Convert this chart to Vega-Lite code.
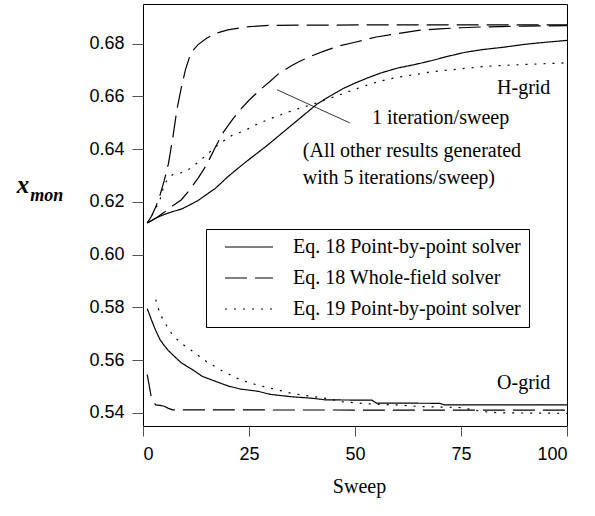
{
  "$schema": "https://vega.github.io/schema/vega-lite/v6.json",
  "width": 424,
  "height": 422,
  "autosize": {"type": "none"},
  "padding": {"left": 143, "top": 4, "right": 28, "bottom": 90},
  "background": "white",
  "config": {
    "view": {"stroke": "black", "strokeWidth": 1},
    "axis": {"grid": false, "domain": false, "tickColor": "#555", "labelFont": "Liberation Sans", "labelFontSize": 18, "labelColor": "black"}
  },
  "datasets": {
    "curves": [
      {"series": "H-PbP18", "method": "Eq. 18 Point-by-point solver", "sweep": 1, "xmon": 0.612},
      {"series": "H-PbP18", "method": "Eq. 18 Point-by-point solver", "sweep": 3, "xmon": 0.6138},
      {"series": "H-PbP18", "method": "Eq. 18 Point-by-point solver", "sweep": 5, "xmon": 0.6152},
      {"series": "H-PbP18", "method": "Eq. 18 Point-by-point solver", "sweep": 7, "xmon": 0.6163},
      {"series": "H-PbP18", "method": "Eq. 18 Point-by-point solver", "sweep": 9, "xmon": 0.6172},
      {"series": "H-PbP18", "method": "Eq. 18 Point-by-point solver", "sweep": 11, "xmon": 0.6188},
      {"series": "H-PbP18", "method": "Eq. 18 Point-by-point solver", "sweep": 13, "xmon": 0.6205},
      {"series": "H-PbP18", "method": "Eq. 18 Point-by-point solver", "sweep": 15, "xmon": 0.6228},
      {"series": "H-PbP18", "method": "Eq. 18 Point-by-point solver", "sweep": 17, "xmon": 0.625},
      {"series": "H-PbP18", "method": "Eq. 18 Point-by-point solver", "sweep": 20, "xmon": 0.6295},
      {"series": "H-PbP18", "method": "Eq. 18 Point-by-point solver", "sweep": 23, "xmon": 0.6335},
      {"series": "H-PbP18", "method": "Eq. 18 Point-by-point solver", "sweep": 26, "xmon": 0.6373},
      {"series": "H-PbP18", "method": "Eq. 18 Point-by-point solver", "sweep": 29, "xmon": 0.641},
      {"series": "H-PbP18", "method": "Eq. 18 Point-by-point solver", "sweep": 32, "xmon": 0.645},
      {"series": "H-PbP18", "method": "Eq. 18 Point-by-point solver", "sweep": 35, "xmon": 0.649},
      {"series": "H-PbP18", "method": "Eq. 18 Point-by-point solver", "sweep": 38, "xmon": 0.653},
      {"series": "H-PbP18", "method": "Eq. 18 Point-by-point solver", "sweep": 41, "xmon": 0.657},
      {"series": "H-PbP18", "method": "Eq. 18 Point-by-point solver", "sweep": 44, "xmon": 0.66},
      {"series": "H-PbP18", "method": "Eq. 18 Point-by-point solver", "sweep": 47, "xmon": 0.6628},
      {"series": "H-PbP18", "method": "Eq. 18 Point-by-point solver", "sweep": 50, "xmon": 0.665},
      {"series": "H-PbP18", "method": "Eq. 18 Point-by-point solver", "sweep": 53, "xmon": 0.667},
      {"series": "H-PbP18", "method": "Eq. 18 Point-by-point solver", "sweep": 56, "xmon": 0.6688},
      {"series": "H-PbP18", "method": "Eq. 18 Point-by-point solver", "sweep": 60, "xmon": 0.6707},
      {"series": "H-PbP18", "method": "Eq. 18 Point-by-point solver", "sweep": 64, "xmon": 0.672},
      {"series": "H-PbP18", "method": "Eq. 18 Point-by-point solver", "sweep": 68, "xmon": 0.6735},
      {"series": "H-PbP18", "method": "Eq. 18 Point-by-point solver", "sweep": 72, "xmon": 0.6752},
      {"series": "H-PbP18", "method": "Eq. 18 Point-by-point solver", "sweep": 76, "xmon": 0.6767},
      {"series": "H-PbP18", "method": "Eq. 18 Point-by-point solver", "sweep": 80, "xmon": 0.6777},
      {"series": "H-PbP18", "method": "Eq. 18 Point-by-point solver", "sweep": 85, "xmon": 0.6786},
      {"series": "H-PbP18", "method": "Eq. 18 Point-by-point solver", "sweep": 90, "xmon": 0.6797},
      {"series": "H-PbP18", "method": "Eq. 18 Point-by-point solver", "sweep": 95, "xmon": 0.6805},
      {"series": "H-PbP18", "method": "Eq. 18 Point-by-point solver", "sweep": 100, "xmon": 0.6812},

      {"series": "H-WF5", "method": "Eq. 18 Whole-field solver", "sweep": 1, "xmon": 0.612},
      {"series": "H-WF5", "method": "Eq. 18 Whole-field solver", "sweep": 2, "xmon": 0.6145},
      {"series": "H-WF5", "method": "Eq. 18 Whole-field solver", "sweep": 3, "xmon": 0.618},
      {"series": "H-WF5", "method": "Eq. 18 Whole-field solver", "sweep": 4, "xmon": 0.6225},
      {"series": "H-WF5", "method": "Eq. 18 Whole-field solver", "sweep": 5, "xmon": 0.628},
      {"series": "H-WF5", "method": "Eq. 18 Whole-field solver", "sweep": 6, "xmon": 0.6345},
      {"series": "H-WF5", "method": "Eq. 18 Whole-field solver", "sweep": 7, "xmon": 0.644},
      {"series": "H-WF5", "method": "Eq. 18 Whole-field solver", "sweep": 8, "xmon": 0.655},
      {"series": "H-WF5", "method": "Eq. 18 Whole-field solver", "sweep": 9, "xmon": 0.663},
      {"series": "H-WF5", "method": "Eq. 18 Whole-field solver", "sweep": 10, "xmon": 0.67},
      {"series": "H-WF5", "method": "Eq. 18 Whole-field solver", "sweep": 11, "xmon": 0.675},
      {"series": "H-WF5", "method": "Eq. 18 Whole-field solver", "sweep": 12, "xmon": 0.6778},
      {"series": "H-WF5", "method": "Eq. 18 Whole-field solver", "sweep": 13, "xmon": 0.6796},
      {"series": "H-WF5", "method": "Eq. 18 Whole-field solver", "sweep": 15, "xmon": 0.682},
      {"series": "H-WF5", "method": "Eq. 18 Whole-field solver", "sweep": 17, "xmon": 0.6838},
      {"series": "H-WF5", "method": "Eq. 18 Whole-field solver", "sweep": 20, "xmon": 0.6852},
      {"series": "H-WF5", "method": "Eq. 18 Whole-field solver", "sweep": 25, "xmon": 0.6864},
      {"series": "H-WF5", "method": "Eq. 18 Whole-field solver", "sweep": 30, "xmon": 0.6869},
      {"series": "H-WF5", "method": "Eq. 18 Whole-field solver", "sweep": 40, "xmon": 0.687},
      {"series": "H-WF5", "method": "Eq. 18 Whole-field solver", "sweep": 60, "xmon": 0.6871},
      {"series": "H-WF5", "method": "Eq. 18 Whole-field solver", "sweep": 100, "xmon": 0.6871},

      {"series": "H-WF1", "method": "Eq. 18 Whole-field solver", "sweep": 1, "xmon": 0.612},
      {"series": "H-WF1", "method": "Eq. 18 Whole-field solver", "sweep": 3, "xmon": 0.6138},
      {"series": "H-WF1", "method": "Eq. 18 Whole-field solver", "sweep": 5, "xmon": 0.616},
      {"series": "H-WF1", "method": "Eq. 18 Whole-field solver", "sweep": 7, "xmon": 0.6185},
      {"series": "H-WF1", "method": "Eq. 18 Whole-field solver", "sweep": 9, "xmon": 0.6207},
      {"series": "H-WF1", "method": "Eq. 18 Whole-field solver", "sweep": 11, "xmon": 0.6245},
      {"series": "H-WF1", "method": "Eq. 18 Whole-field solver", "sweep": 13, "xmon": 0.629},
      {"series": "H-WF1", "method": "Eq. 18 Whole-field solver", "sweep": 15, "xmon": 0.634},
      {"series": "H-WF1", "method": "Eq. 18 Whole-field solver", "sweep": 17, "xmon": 0.6405},
      {"series": "H-WF1", "method": "Eq. 18 Whole-field solver", "sweep": 19, "xmon": 0.6465},
      {"series": "H-WF1", "method": "Eq. 18 Whole-field solver", "sweep": 21, "xmon": 0.651},
      {"series": "H-WF1", "method": "Eq. 18 Whole-field solver", "sweep": 23, "xmon": 0.655},
      {"series": "H-WF1", "method": "Eq. 18 Whole-field solver", "sweep": 25, "xmon": 0.6585},
      {"series": "H-WF1", "method": "Eq. 18 Whole-field solver", "sweep": 28, "xmon": 0.663},
      {"series": "H-WF1", "method": "Eq. 18 Whole-field solver", "sweep": 30, "xmon": 0.6657},
      {"series": "H-WF1", "method": "Eq. 18 Whole-field solver", "sweep": 32, "xmon": 0.6686},
      {"series": "H-WF1", "method": "Eq. 18 Whole-field solver", "sweep": 35, "xmon": 0.6716},
      {"series": "H-WF1", "method": "Eq. 18 Whole-field solver", "sweep": 37, "xmon": 0.6733},
      {"series": "H-WF1", "method": "Eq. 18 Whole-field solver", "sweep": 40, "xmon": 0.6755},
      {"series": "H-WF1", "method": "Eq. 18 Whole-field solver", "sweep": 43, "xmon": 0.6773},
      {"series": "H-WF1", "method": "Eq. 18 Whole-field solver", "sweep": 46, "xmon": 0.679},
      {"series": "H-WF1", "method": "Eq. 18 Whole-field solver", "sweep": 50, "xmon": 0.6805},
      {"series": "H-WF1", "method": "Eq. 18 Whole-field solver", "sweep": 55, "xmon": 0.6825},
      {"series": "H-WF1", "method": "Eq. 18 Whole-field solver", "sweep": 60, "xmon": 0.6838},
      {"series": "H-WF1", "method": "Eq. 18 Whole-field solver", "sweep": 65, "xmon": 0.685},
      {"series": "H-WF1", "method": "Eq. 18 Whole-field solver", "sweep": 70, "xmon": 0.6856},
      {"series": "H-WF1", "method": "Eq. 18 Whole-field solver", "sweep": 75, "xmon": 0.686},
      {"series": "H-WF1", "method": "Eq. 18 Whole-field solver", "sweep": 80, "xmon": 0.6863},
      {"series": "H-WF1", "method": "Eq. 18 Whole-field solver", "sweep": 90, "xmon": 0.6866},
      {"series": "H-WF1", "method": "Eq. 18 Whole-field solver", "sweep": 100, "xmon": 0.6868},

      {"series": "H-PbP19", "method": "Eq. 19 Point-by-point solver", "sweep": 1, "xmon": 0.612},
      {"series": "H-PbP19", "method": "Eq. 19 Point-by-point solver", "sweep": 2, "xmon": 0.6145},
      {"series": "H-PbP19", "method": "Eq. 19 Point-by-point solver", "sweep": 3, "xmon": 0.6175},
      {"series": "H-PbP19", "method": "Eq. 19 Point-by-point solver", "sweep": 4, "xmon": 0.6208},
      {"series": "H-PbP19", "method": "Eq. 19 Point-by-point solver", "sweep": 5, "xmon": 0.6265},
      {"series": "H-PbP19", "method": "Eq. 19 Point-by-point solver", "sweep": 6, "xmon": 0.629},
      {"series": "H-PbP19", "method": "Eq. 19 Point-by-point solver", "sweep": 7, "xmon": 0.6303},
      {"series": "H-PbP19", "method": "Eq. 19 Point-by-point solver", "sweep": 9, "xmon": 0.631},
      {"series": "H-PbP19", "method": "Eq. 19 Point-by-point solver", "sweep": 11, "xmon": 0.6325},
      {"series": "H-PbP19", "method": "Eq. 19 Point-by-point solver", "sweep": 13, "xmon": 0.635},
      {"series": "H-PbP19", "method": "Eq. 19 Point-by-point solver", "sweep": 15, "xmon": 0.6378},
      {"series": "H-PbP19", "method": "Eq. 19 Point-by-point solver", "sweep": 18, "xmon": 0.642},
      {"series": "H-PbP19", "method": "Eq. 19 Point-by-point solver", "sweep": 21, "xmon": 0.6452},
      {"series": "H-PbP19", "method": "Eq. 19 Point-by-point solver", "sweep": 24, "xmon": 0.647},
      {"series": "H-PbP19", "method": "Eq. 19 Point-by-point solver", "sweep": 27, "xmon": 0.6495},
      {"series": "H-PbP19", "method": "Eq. 19 Point-by-point solver", "sweep": 30, "xmon": 0.6515},
      {"series": "H-PbP19", "method": "Eq. 19 Point-by-point solver", "sweep": 33, "xmon": 0.6533},
      {"series": "H-PbP19", "method": "Eq. 19 Point-by-point solver", "sweep": 36, "xmon": 0.655},
      {"series": "H-PbP19", "method": "Eq. 19 Point-by-point solver", "sweep": 40, "xmon": 0.657},
      {"series": "H-PbP19", "method": "Eq. 19 Point-by-point solver", "sweep": 44, "xmon": 0.6592},
      {"series": "H-PbP19", "method": "Eq. 19 Point-by-point solver", "sweep": 48, "xmon": 0.6615},
      {"series": "H-PbP19", "method": "Eq. 19 Point-by-point solver", "sweep": 52, "xmon": 0.6638},
      {"series": "H-PbP19", "method": "Eq. 19 Point-by-point solver", "sweep": 56, "xmon": 0.6658},
      {"series": "H-PbP19", "method": "Eq. 19 Point-by-point solver", "sweep": 60, "xmon": 0.6672},
      {"series": "H-PbP19", "method": "Eq. 19 Point-by-point solver", "sweep": 64, "xmon": 0.6682},
      {"series": "H-PbP19", "method": "Eq. 19 Point-by-point solver", "sweep": 68, "xmon": 0.6693},
      {"series": "H-PbP19", "method": "Eq. 19 Point-by-point solver", "sweep": 73, "xmon": 0.6701},
      {"series": "H-PbP19", "method": "Eq. 19 Point-by-point solver", "sweep": 81, "xmon": 0.6714},
      {"series": "H-PbP19", "method": "Eq. 19 Point-by-point solver", "sweep": 89, "xmon": 0.672},
      {"series": "H-PbP19", "method": "Eq. 19 Point-by-point solver", "sweep": 100, "xmon": 0.6727},

      {"series": "O-PbP18", "method": "Eq. 18 Point-by-point solver", "sweep": 1, "xmon": 0.5795},
      {"series": "O-PbP18", "method": "Eq. 18 Point-by-point solver", "sweep": 2, "xmon": 0.5752},
      {"series": "O-PbP18", "method": "Eq. 18 Point-by-point solver", "sweep": 3, "xmon": 0.5712},
      {"series": "O-PbP18", "method": "Eq. 18 Point-by-point solver", "sweep": 4, "xmon": 0.5678},
      {"series": "O-PbP18", "method": "Eq. 18 Point-by-point solver", "sweep": 5, "xmon": 0.5655},
      {"series": "O-PbP18", "method": "Eq. 18 Point-by-point solver", "sweep": 6, "xmon": 0.5636},
      {"series": "O-PbP18", "method": "Eq. 18 Point-by-point solver", "sweep": 7, "xmon": 0.562},
      {"series": "O-PbP18", "method": "Eq. 18 Point-by-point solver", "sweep": 9, "xmon": 0.559},
      {"series": "O-PbP18", "method": "Eq. 18 Point-by-point solver", "sweep": 12, "xmon": 0.556},
      {"series": "O-PbP18", "method": "Eq. 18 Point-by-point solver", "sweep": 14, "xmon": 0.5538},
      {"series": "O-PbP18", "method": "Eq. 18 Point-by-point solver", "sweep": 17, "xmon": 0.552},
      {"series": "O-PbP18", "method": "Eq. 18 Point-by-point solver", "sweep": 20, "xmon": 0.5502},
      {"series": "O-PbP18", "method": "Eq. 18 Point-by-point solver", "sweep": 23, "xmon": 0.549},
      {"series": "O-PbP18", "method": "Eq. 18 Point-by-point solver", "sweep": 27, "xmon": 0.5482},
      {"series": "O-PbP18", "method": "Eq. 18 Point-by-point solver", "sweep": 30, "xmon": 0.547},
      {"series": "O-PbP18", "method": "Eq. 18 Point-by-point solver", "sweep": 35, "xmon": 0.5461},
      {"series": "O-PbP18", "method": "Eq. 18 Point-by-point solver", "sweep": 40, "xmon": 0.5455},
      {"series": "O-PbP18", "method": "Eq. 18 Point-by-point solver", "sweep": 43, "xmon": 0.5449},
      {"series": "O-PbP18", "method": "Eq. 18 Point-by-point solver", "sweep": 54, "xmon": 0.5448},
      {"series": "O-PbP18", "method": "Eq. 18 Point-by-point solver", "sweep": 55, "xmon": 0.5437},
      {"series": "O-PbP18", "method": "Eq. 18 Point-by-point solver", "sweep": 70, "xmon": 0.5436},
      {"series": "O-PbP18", "method": "Eq. 18 Point-by-point solver", "sweep": 71, "xmon": 0.543},
      {"series": "O-PbP18", "method": "Eq. 18 Point-by-point solver", "sweep": 100, "xmon": 0.543},

      {"series": "O-PbP19", "method": "Eq. 19 Point-by-point solver", "sweep": 3, "xmon": 0.5829},
      {"series": "O-PbP19", "method": "Eq. 19 Point-by-point solver", "sweep": 4, "xmon": 0.5775},
      {"series": "O-PbP19", "method": "Eq. 19 Point-by-point solver", "sweep": 6, "xmon": 0.5718},
      {"series": "O-PbP19", "method": "Eq. 19 Point-by-point solver", "sweep": 7, "xmon": 0.5695},
      {"series": "O-PbP19", "method": "Eq. 19 Point-by-point solver", "sweep": 9, "xmon": 0.5664},
      {"series": "O-PbP19", "method": "Eq. 19 Point-by-point solver", "sweep": 12, "xmon": 0.563},
      {"series": "O-PbP19", "method": "Eq. 19 Point-by-point solver", "sweep": 15, "xmon": 0.5594},
      {"series": "O-PbP19", "method": "Eq. 19 Point-by-point solver", "sweep": 19, "xmon": 0.5556},
      {"series": "O-PbP19", "method": "Eq. 19 Point-by-point solver", "sweep": 23, "xmon": 0.5525},
      {"series": "O-PbP19", "method": "Eq. 19 Point-by-point solver", "sweep": 27, "xmon": 0.5505},
      {"series": "O-PbP19", "method": "Eq. 19 Point-by-point solver", "sweep": 31, "xmon": 0.549},
      {"series": "O-PbP19", "method": "Eq. 19 Point-by-point solver", "sweep": 35, "xmon": 0.5474},
      {"series": "O-PbP19", "method": "Eq. 19 Point-by-point solver", "sweep": 39, "xmon": 0.5464},
      {"series": "O-PbP19", "method": "Eq. 19 Point-by-point solver", "sweep": 43, "xmon": 0.5455},
      {"series": "O-PbP19", "method": "Eq. 19 Point-by-point solver", "sweep": 47, "xmon": 0.5442},
      {"series": "O-PbP19", "method": "Eq. 19 Point-by-point solver", "sweep": 50, "xmon": 0.5438},
      {"series": "O-PbP19", "method": "Eq. 19 Point-by-point solver", "sweep": 55, "xmon": 0.5432},
      {"series": "O-PbP19", "method": "Eq. 19 Point-by-point solver", "sweep": 60, "xmon": 0.543},
      {"series": "O-PbP19", "method": "Eq. 19 Point-by-point solver", "sweep": 65, "xmon": 0.5424},
      {"series": "O-PbP19", "method": "Eq. 19 Point-by-point solver", "sweep": 70, "xmon": 0.5422},
      {"series": "O-PbP19", "method": "Eq. 19 Point-by-point solver", "sweep": 75, "xmon": 0.542},
      {"series": "O-PbP19", "method": "Eq. 19 Point-by-point solver", "sweep": 80, "xmon": 0.5405},
      {"series": "O-PbP19", "method": "Eq. 19 Point-by-point solver", "sweep": 84, "xmon": 0.54},
      {"series": "O-PbP19", "method": "Eq. 19 Point-by-point solver", "sweep": 100, "xmon": 0.5398},

      {"series": "O-WF5", "method": "Eq. 18 Whole-field solver", "sweep": 1, "xmon": 0.5545},
      {"series": "O-WF5", "method": "Eq. 18 Whole-field solver", "sweep": 2, "xmon": 0.5455},
      {"series": "O-WF5", "method": "Eq. 18 Whole-field solver", "sweep": 3, "xmon": 0.543},
      {"series": "O-WF5", "method": "Eq. 18 Whole-field solver", "sweep": 4, "xmon": 0.5428},
      {"series": "O-WF5", "method": "Eq. 18 Whole-field solver", "sweep": 5, "xmon": 0.5425},
      {"series": "O-WF5", "method": "Eq. 18 Whole-field solver", "sweep": 6, "xmon": 0.5417},
      {"series": "O-WF5", "method": "Eq. 18 Whole-field solver", "sweep": 7, "xmon": 0.5411},
      {"series": "O-WF5", "method": "Eq. 18 Whole-field solver", "sweep": 100, "xmon": 0.541}
    ],
    "notes": [
      {"sweep": 83.5, "xmon": 0.6607, "label": "H-grid"},
      {"sweep": 83.5, "xmon": 0.5491, "label": "O-grid"},
      {"sweep": 54.0, "xmon": 0.6496, "label": "1 iteration/sweep"},
      {"sweep": 37.7, "xmon": 0.6371, "label": "(All other results generated"},
      {"sweep": 37.7, "xmon": 0.6269, "label": "with 5 iterations/sweep)"}
    ],
    "pointer": [
      {"sweep": 31.6, "xmon": 0.6625, "sweep2": 48.8, "xmon2": 0.6499}
    ],
    "ytitle": [
      {"sweep": -29.8, "xmon": 0.6234, "label": "x"}
    ],
    "ysub": [
      {"sweep": -26.6, "xmon": 0.6204, "label": "mon"}
    ]
  },
  "layer": [
    {
      "data": {"name": "curves"},
      "mark": {"type": "line", "color": "black", "strokeWidth": 1.2},
      "encoding": {
        "x": {"field": "sweep", "type": "quantitative",
              "scale": {"domain": [0, 100], "nice": false, "zero": false},
              "axis": {"values": [0, 25, 50, 75, 100], "tickSize": 10, "labelPadding": 9,
                       "title": "Sweep", "titleFont": "Liberation Serif", "titleFontSize": 20,
                       "titleFontWeight": "normal", "titleColor": "black",
                       "titleBaseline": "alphabetic", "titleY": 66, "titleX": 216}},
        "y": {"field": "xmon", "type": "quantitative",
              "scale": {"domain": [0.535, 0.695], "nice": false, "zero": false},
              "axis": {"values": [0.54, 0.56, 0.58, 0.6, 0.62, 0.64, 0.66, 0.68], "format": ".2f",
                       "tickSize": 11, "labelPadding": 8, "title": null}},
        "detail": {"field": "series", "type": "nominal"},
        "strokeDash": {"field": "method", "type": "nominal",
                       "scale": {"domain": ["Eq. 18 Point-by-point solver", "Eq. 18 Whole-field solver", "Eq. 19 Point-by-point solver"],
                                 "range": [[1, 0], [22, 8], [2, 7]]},
                       "legend": {"title": null, "orient": "none", "legendX": 63, "legendY": 225,
                                  "strokeColor": "black", "fillColor": "white", "padding": 8,
                                  "symbolType": "stroke", "symbolSize": 2304, "symbolStrokeWidth": 1.2,
                                  "symbolStrokeColor": "black", "clipHeight": 20, "rowPadding": 11,
                                  "symbolOffset": 10, "labelOffset": 19, "labelLimit": 400,
                                  "labelFont": "Liberation Serif", "labelFontSize": 20, "labelColor": "black"}}
      }
    },
    {
      "data": {"name": "pointer"},
      "mark": {"type": "rule", "color": "black", "strokeWidth": 0.8},
      "encoding": {
        "x": {"field": "sweep", "type": "quantitative"},
        "y": {"field": "xmon", "type": "quantitative"},
        "x2": {"field": "sweep2"},
        "y2": {"field": "xmon2"}
      }
    },
    {
      "data": {"name": "notes"},
      "mark": {"type": "text", "font": "Liberation Serif", "fontSize": 20, "align": "left", "baseline": "alphabetic", "color": "black"},
      "encoding": {
        "x": {"field": "sweep", "type": "quantitative"},
        "y": {"field": "xmon", "type": "quantitative"},
        "text": {"field": "label"}
      }
    },
    {
      "data": {"name": "ytitle"},
      "mark": {"type": "text", "font": "Liberation Serif", "fontSize": 25, "fontWeight": "bold", "fontStyle": "italic", "align": "left", "baseline": "alphabetic", "color": "black"},
      "encoding": {
        "x": {"field": "sweep", "type": "quantitative"},
        "y": {"field": "xmon", "type": "quantitative"},
        "text": {"field": "label"}
      }
    },
    {
      "data": {"name": "ysub"},
      "mark": {"type": "text", "font": "Liberation Serif", "fontSize": 18, "fontWeight": "bold", "fontStyle": "italic", "align": "left", "baseline": "alphabetic", "color": "black"},
      "encoding": {
        "x": {"field": "sweep", "type": "quantitative"},
        "y": {"field": "xmon", "type": "quantitative"},
        "text": {"field": "label"}
      }
    }
  ]
}
